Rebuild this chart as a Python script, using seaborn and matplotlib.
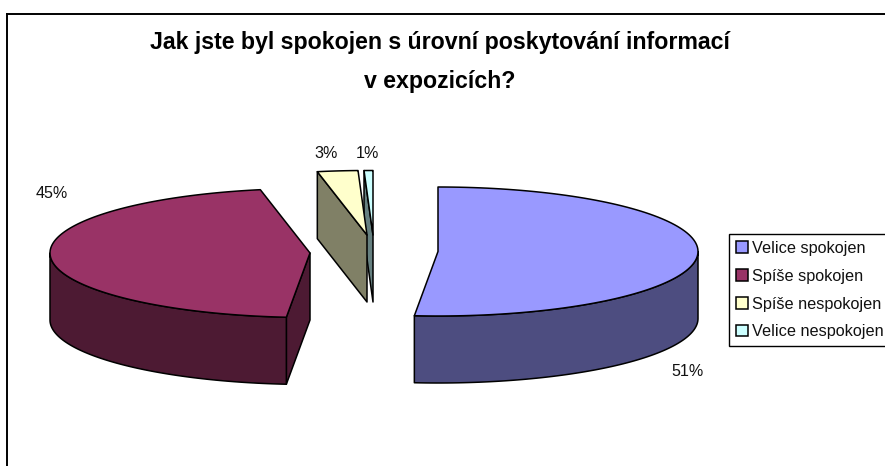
import numpy as np
import matplotlib
matplotlib.use('Agg')
import matplotlib.pyplot as plt
from matplotlib.patches import Patch, Polygon
import seaborn as sns

categories = ['Velice spokojen', 'Spíše spokojen', 'Spíše nespokojen', 'Velice nespokojen']
shares = [51.45, 45.49, 2.51, 0.55]
title = 'Jak jste byl spokojen s úrovní poskytování informací\nv expozicích?'
colors = ['#9999FF', '#993366', '#FFFFCC', '#CCFFFF']

# pie geometry in picture pixels
RX, RY, DEPTH = 260, 64.5, 67
centers = [(438, 251.5), (310, 253), (367, 235), (373, 235)]
label_pos = [(688, 371), (52, 194), (326, 153), (367, 154)]
draw_order = [0, 1, 3, 2]


def rim(c, t):
    t = np.radians(t)
    return np.column_stack([c[0] + RX*np.sin(t), c[1] - RY*np.cos(t)])


def draw_slice(ax, c, start, end, top, side):
    kw = dict(edgecolor='black', linewidth=1.1, joinstyle='round')
    # cut faces
    for t, visible in ((start, 180 <= start < 360), (end, 0 < end <= 180)):
        if visible:
            p = rim(c, np.array([t]))[0]
            ax.add_patch(Polygon([c, p, (p[0], p[1]+DEPTH), (c[0], c[1]+DEPTH)], facecolor=side, **kw))
    # outer wall, only the front half shows
    lo, hi = max(start, 90), min(end, 270)
    if lo < hi:
        arc = rim(c, np.linspace(lo, hi, 80))
        low = arc[::-1] + [0, DEPTH]
        ax.add_patch(Polygon(np.vstack([arc, low]), facecolor=side, **kw))
    # top face
    arc = rim(c, np.linspace(start, end, 120))
    ax.add_patch(Polygon(np.vstack([[c], arc]), facecolor=top, **kw))


sns.set_theme(style='white')
plt.rcParams['font.family'] = ['Liberation Sans', 'DejaVu Sans']
palette = sns.color_palette(colors)
shades = [tuple(np.array(col)*0.5) for col in palette]

W, H = 885, 466
fig = plt.figure(figsize=(W/100, H/100), dpi=100)
ax = fig.add_axes([0, 0, 1, 1])
ax.set_xlim(0, W)
ax.set_ylim(H, 0)
ax.set_xticks([])
ax.set_yticks([])
ax.patch.set_alpha(0)

# chart area frame, cut off at the right and the bottom
frame = fig.add_axes([6.5/W, 0, 1, 1-13.5/H], zorder=-1)
frame.set_xticks([])
frame.set_yticks([])
sns.despine(ax=frame, right=True, bottom=True, left=False, top=False)
for s in ('left', 'top'):
    frame.spines[s].set_color('black')
    frame.spines[s].set_linewidth(1.4)
sns.despine(ax=ax, left=True, right=True, top=True, bottom=True)

edges = np.concatenate([[0], np.cumsum(shares)]) / np.sum(shares) * 360
for i in draw_order:
    draw_slice(ax, centers[i], edges[i], edges[i+1], palette[i], shades[i])

for v, (x, y) in zip(shares, label_pos):
    ax.text(x, y, f'{v:.0f}%', ha='center', va='center', fontsize=11.6, color='#111111')

ax.text(440, 62, title, ha='center', va='center', fontsize=16.7, fontweight='bold',
        color='black', linespacing=1.92)

handles = [Patch(facecolor=col, edgecolor='black', linewidth=1.1) for col in palette]
leg = ax.legend(handles, categories, loc='upper left', bbox_to_anchor=(729, 234),
                bbox_transform=ax.transData, borderaxespad=0, fontsize=11.7, frameon=True,
                fancybox=False, edgecolor='black', framealpha=1, handlelength=0.72,
                handleheight=0.72, handletextpad=0.3, labelspacing=0.79,
                borderpad=0.42, labelcolor='#111111')
leg.get_frame().set_linewidth(1.0)

fig.savefig('out.png', dpi=100, facecolor='white')
